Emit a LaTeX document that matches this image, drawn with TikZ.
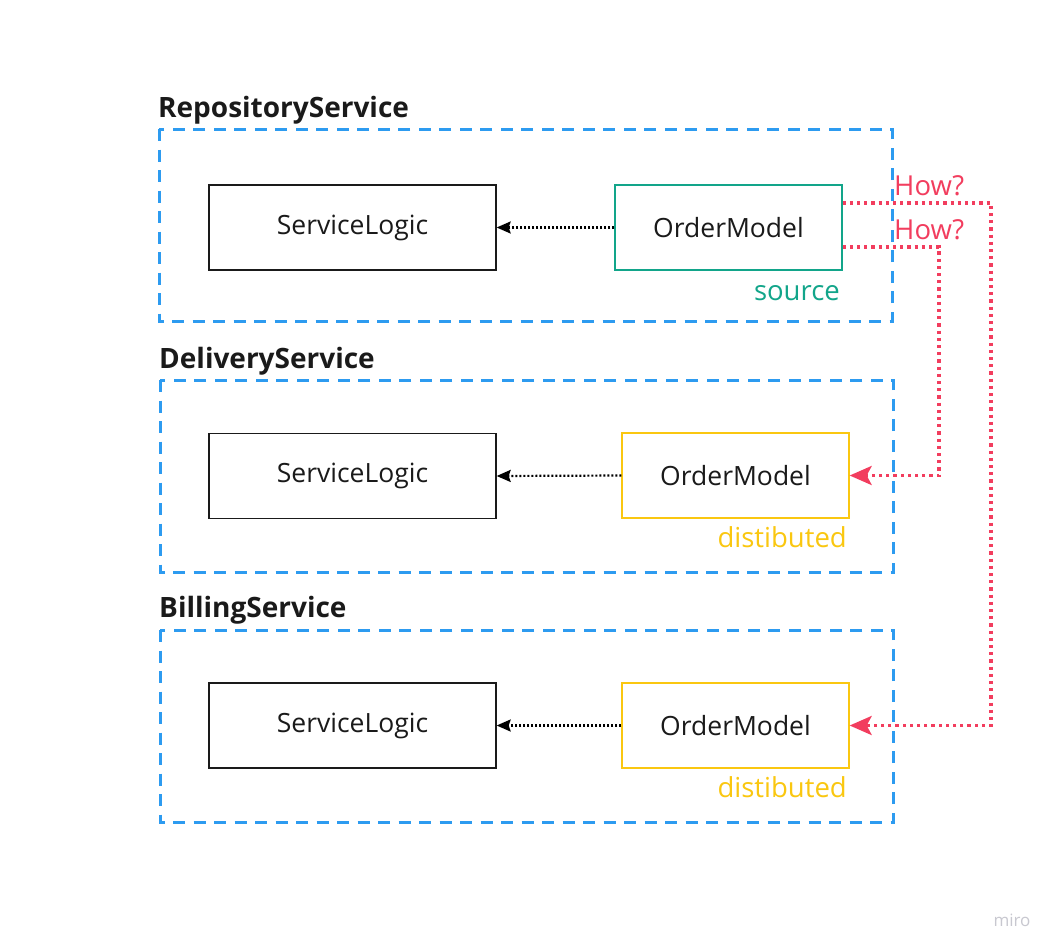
\documentclass[tikz,border=0pt]{standalone}
\usepackage{fontspec}
\setmainfont{Open Sans}
\usetikzlibrary{arrows.meta,calc}
\definecolor{mblue}{HTML}{2D9BF0}
\definecolor{mteal}{HTML}{12A58A}
\definecolor{myellow}{HTML}{FAC710}
\definecolor{mred}{HTML}{F23D5E}
\definecolor{mtext}{HTML}{1A1A1A}
\definecolor{mgrey}{HTML}{C8C8D0}
\tikzset{
  boxfont/.style={font=\fontsize{26.5}{30}\selectfont},
  svcbox/.style={draw=mblue,line width=3pt,dash pattern=on 12pt off 8.5pt},
  logicbox/.style={draw=mtext,line width=1.3pt,minimum width=287pt,minimum height=85pt,text=mtext,boxfont,inner sep=0pt},
  srcbox/.style={draw=mteal,line width=1.3pt,minimum width=227pt,minimum height=85pt,text=mtext,boxfont,inner sep=0pt},
  distbox/.style={draw=myellow,line width=1.3pt,minimum width=227pt,minimum height=85pt,text=mtext,boxfont,inner sep=0pt},
  svctitle/.style={anchor=base west,inner sep=0pt,text=mtext,font=\bfseries\fontsize{28}{32}\selectfont},
  tag/.style={anchor=base east,inner sep=0pt,font=\fontsize{27.5}{31}\selectfont},
  howlbl/.style={anchor=base west,inner sep=0pt,text=mred,font=\fontsize{27.5}{31}\selectfont},
  blackdot/.style={draw=black,line width=2.2pt,dash pattern=on 2pt off 2pt,-{Stealth[length=14pt,width=12pt,inset=2pt]}},
  reddot/.style={draw=mred,line width=3.4pt,dash pattern=on 3.2pt off 4pt,-{Stealth[length=22pt,width=19pt,inset=5pt]}}
}
\begin{document}
\begin{tikzpicture}[x=1pt,y=-1pt]
\useasboundingbox[fill=white] (0,0) rectangle (1051,950);
% service containers
\draw[svcbox] (159,129) rectangle (892,321);
\draw[svcbox] (160,380) rectangle (893,572);
\draw[svcbox] (160,630) rectangle (893,822);
\node[svctitle] (t1) at (158,117) {RepositoryService};
\node[svctitle] (t2) at (159,368) {DeliveryService};
\node[svctitle] (t3) at (159,617) {BillingService};
% boxes
\node[logicbox] (sl1) at (352.5,227.5) {ServiceLogic};
\node[srcbox] (om1) at (728.5,227.5) {OrderModel};
\node[logicbox] (sl2) at (352.5,476) {ServiceLogic};
\node[distbox] (om2) at (735.5,475.5) {OrderModel};
\node[logicbox] (sl3) at (352.5,725.5) {ServiceLogic};
\node[distbox] (om3) at (735.5,725.5) {OrderModel};
% tags
\node[tag,text=mteal] (src) at (840,300) {source};
\node[tag,text=myellow] (d2) at (847,547) {distibuted};
\node[tag,text=myellow] (d3) at (847,797) {distibuted};
% black dotted arrows
\draw[blackdot] (om1.west) -- (sl1.east);
\draw[blackdot] (om2.west) -- (sl2.east);
\draw[blackdot] (om3.west) -- (sl3.east);
% red connectors
\coordinate (r1) at (991,203);
\coordinate (r2) at (939,247);
\draw[reddot] (om1.east |- r1) -- (r1) |- (om3.east);
\draw[reddot] (om1.east |- r2) -- (r2) |- (om2.east);
\node[howlbl] (h1) at (894,195) {How?};
\node[howlbl] (h2) at (894,239) {How?};
% watermark
\node[text=mgrey,font=\fontsize{17}{19}\selectfont,inner sep=0pt] (miro) at (1012,920) {miro};
\end{tikzpicture}
\end{document}
